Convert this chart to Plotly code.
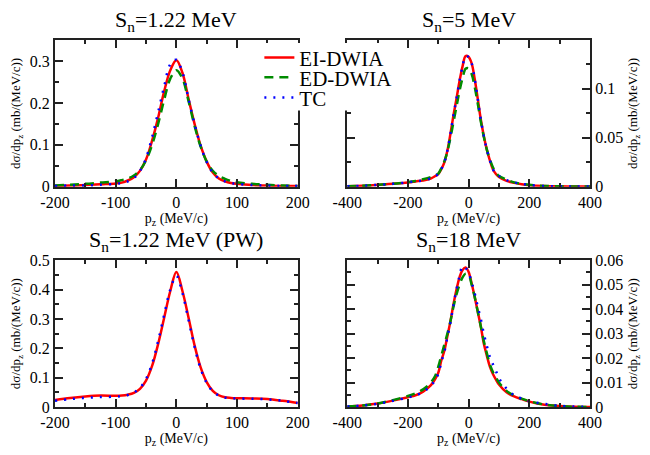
import plotly.graph_objects as go

# Longitudinal momentum grids (MeV/c)
pz_narrow = [-200, -175, -150, -125, -100, -90, -80, -70, -60, -50, -40, -30, -20, -10, 0,
             10, 20, 30, 40, 50, 60, 70, 80, 90, 100, 125, 150, 175, 200]
pz_wide = [-400, -350, -300, -250, -200, -175, -150, -125, -110, -100, -90, -80, -70, -60, -50,
           -40, -30, -20, -10, 0, 10, 20, 30, 40, 50, 60, 70, 80, 90, 100, 125, 150, 175, 200,
           250, 300, 350, 400]

# S_n = 1.22 MeV  (mb/(MeV/c))
sn122_ei = [0.002, 0.003, 0.004, 0.006, 0.008, 0.010, 0.015, 0.023, 0.038, 0.065, 0.110, 0.165,
            0.228, 0.278, 0.302, 0.272, 0.210, 0.150, 0.098, 0.060, 0.034, 0.020, 0.013, 0.009,
            0.007, 0.004, 0.003, 0.002, 0.002]
sn122_ed = [0.003, 0.005, 0.007, 0.010, 0.013, 0.016, 0.020, 0.027, 0.040, 0.063, 0.100, 0.150,
            0.208, 0.258, 0.278, 0.258, 0.205, 0.145, 0.096, 0.060, 0.038, 0.026, 0.019, 0.014,
            0.011, 0.007, 0.005, 0.003, 0.002]
sn122_tc = [0.002, 0.003, 0.003, 0.005, 0.007, 0.009, 0.013, 0.021, 0.038, 0.068, 0.118, 0.178,
            0.240, 0.292, 0.303, 0.273, 0.210, 0.150, 0.098, 0.059, 0.034, 0.020, 0.013, 0.009,
            0.007, 0.004, 0.003, 0.002, 0.002]

# S_n = 5 MeV
sn5_ei = [0.0005, 0.001, 0.002, 0.003, 0.0045, 0.0055, 0.0065, 0.0085, 0.011, 0.013, 0.018, 0.025,
          0.037, 0.054, 0.073, 0.090, 0.108, 0.123, 0.1335, 0.1325, 0.126, 0.110, 0.090, 0.069,
          0.052, 0.038, 0.027, 0.018, 0.013, 0.010, 0.006, 0.004, 0.0025, 0.0016, 0.0008, 0.0005,
          0.0003, 0.0002]
sn5_ed = [0.0005, 0.001, 0.002, 0.003, 0.0048, 0.006, 0.0078, 0.0100, 0.0118, 0.0135, 0.019, 0.026,
          0.036, 0.050, 0.066, 0.082, 0.098, 0.111, 0.1205, 0.121, 0.115, 0.102, 0.085, 0.067,
          0.051, 0.038, 0.028, 0.020, 0.015, 0.011, 0.0075, 0.0045, 0.003, 0.002, 0.0009, 0.0005,
          0.0003, 0.0002]
sn5_tc = [0.0005, 0.001, 0.002, 0.003, 0.0045, 0.0055, 0.0065, 0.0085, 0.011, 0.013, 0.018, 0.025,
          0.037, 0.054, 0.073, 0.090, 0.108, 0.123, 0.1335, 0.1325, 0.126, 0.110, 0.090, 0.069,
          0.052, 0.038, 0.027, 0.018, 0.013, 0.011, 0.0068, 0.0045, 0.003, 0.0018, 0.0008, 0.0005,
          0.0003, 0.0002]

# S_n = 1.22 MeV, plane waves
pw_ei = [0.024, 0.031, 0.036, 0.039, 0.038, 0.039, 0.042, 0.048, 0.062, 0.090, 0.140, 0.215,
         0.305, 0.395, 0.460, 0.395, 0.305, 0.210, 0.135, 0.085, 0.055, 0.040, 0.033, 0.031,
         0.030, 0.029, 0.027, 0.021, 0.014]
pw_tc = [0.021, 0.027, 0.031, 0.034, 0.035, 0.037, 0.041, 0.049, 0.065, 0.095, 0.148, 0.225,
         0.315, 0.400, 0.447, 0.388, 0.297, 0.205, 0.130, 0.082, 0.053, 0.039, 0.032, 0.030,
         0.029, 0.028, 0.026, 0.021, 0.014]

# S_n = 18 MeV
sn18_ei = [0.0002, 0.0006, 0.0014, 0.0026, 0.0040, 0.0048, 0.0063, 0.0088, 0.0115, 0.0140, 0.019,
           0.023, 0.029, 0.035, 0.042, 0.048, 0.053, 0.056, 0.057, 0.0552, 0.0505, 0.045, 0.039,
           0.033, 0.026, 0.021, 0.0165, 0.0135, 0.0112, 0.0092, 0.0060, 0.0043, 0.0032, 0.0022,
           0.0009, 0.0004, 0.0001, 0.0]
sn18_ed = [0.0002, 0.0006, 0.0014, 0.0028, 0.0045, 0.0056, 0.0072, 0.0100, 0.0128, 0.0165, 0.021,
           0.0255, 0.030, 0.035, 0.041, 0.046, 0.050, 0.053, 0.0545, 0.054, 0.050, 0.045, 0.039,
           0.033, 0.027, 0.022, 0.0175, 0.0143, 0.012, 0.010, 0.0066, 0.0047, 0.0034, 0.0024,
           0.0010, 0.0004, 0.0001, 0.0]
sn18_tc = [0.0002, 0.0006, 0.0013, 0.0025, 0.0039, 0.0047, 0.0062, 0.0086, 0.0112, 0.0135, 0.0185,
           0.0225, 0.0285, 0.0345, 0.0415, 0.048, 0.0535, 0.0575, 0.0568, 0.0548, 0.051, 0.0465,
           0.041, 0.036, 0.030, 0.025, 0.0205, 0.0175, 0.0147, 0.0118, 0.0075, 0.0048, 0.0034,
           0.0023, 0.0013, 0.0005, 0.0002, 0.0001]

# Tick values / labels for the momentum axes
ticks_narrow = [-200, -100, 0, 100, 200]
labels_narrow = ["-200", "-100", "0", "100", "200"]
ticks_wide = [-400, -200, 0, 200, 400]
labels_wide = ["-400", "-200", "0", "200", "400"]

titles = ["S<sub>n</sub>=1.22 MeV", "S<sub>n</sub>=5 MeV",
          "S<sub>n</sub>=1.22 MeV (PW)", "S<sub>n</sub>=18 MeV"]

FONT = "Liberation Serif, Times New Roman, serif"
RED, GREEN, BLUE = "#ff0000", "#008b00", "#0000ff"

fig = go.Figure()

styles = {
    "EI-DWIA": dict(color=RED, width=2.5, dash="solid"),
    "ED-DWIA": dict(color=GREEN, width=2.5, dash="9px,6px"),
    "TC": dict(color=BLUE, width=2.5, dash="2px,7px"),
}
legend_ids = {"EI-DWIA": "legend", "ED-DWIA": "legend2", "TC": "legend3"}

panels = [
    ("x", "y", pz_narrow, [("EI-DWIA", sn122_ei), ("ED-DWIA", sn122_ed), ("TC", sn122_tc)], True),
    ("x2", "y2", pz_wide, [("EI-DWIA", sn5_ei), ("ED-DWIA", sn5_ed), ("TC", sn5_tc)], False),
    ("x3", "y3", pz_narrow, [("EI-DWIA", pw_ei), ("TC", pw_tc)], False),
    ("x4", "y4", pz_wide, [("EI-DWIA", sn18_ei), ("ED-DWIA", sn18_ed), ("TC", sn18_tc)], False),
]
for xa, ya, grid, series, show in panels:
    for name, vals in series:
        fig.add_trace(go.Scatter(
            x=grid, y=vals, mode="lines", name=name, line=styles[name],
            line_shape="spline", xaxis=xa, yaxis=ya, showlegend=show,
            legend=legend_ids[name],
        ))

axis_common = dict(
    showline=True, linecolor="#222", linewidth=2, mirror="allticks",
    ticks="inside", ticklen=8, tickwidth=1.5, tickcolor="#222",
    showgrid=False, zeroline=False,
    tickfont=dict(family=FONT, size=16, color="black"),
)
ytitle = dict(text="dσ/dp<sub>z</sub> (mb/(MeV/c))", font=dict(family=FONT, size=13, color="black"),
              standoff=6)
xtitle = dict(text="p<sub>z</sub> (MeV/c)", font=dict(family=FONT, size=14, color="black"),
              standoff=2)


def minor(step):
    return dict(ticks="inside", ticklen=4, tickwidth=1.5, tickcolor="#222", dtick=step, tick0=0)


xl = [0.0, 245 / 540]
xr = [295 / 540, 1.0]
yt = [0.6, 1.0]
yb = [0.0, 0.4]

fig.update_layout(
    width=650, height=455,
    margin=dict(l=55, r=55, t=40, b=35),
    paper_bgcolor="white", plot_bgcolor="white",
    font=dict(family=FONT, color="black"),
    xaxis=dict(axis_common, domain=xl, anchor="y", range=[-200, 200], tickmode="array",
               tickvals=ticks_narrow, ticktext=labels_narrow, title=xtitle, minor=minor(50)),
    yaxis=dict(axis_common, domain=yt, anchor="x", range=[0, 0.35], dtick=0.1, title=ytitle,
               minor=minor(0.05)),
    xaxis2=dict(axis_common, domain=xr, anchor="y2", range=[-400, 400], tickmode="array",
                tickvals=ticks_wide, ticktext=labels_wide, title=xtitle, minor=minor(100)),
    yaxis2=dict(axis_common, domain=yt, anchor="x2", side="right", range=[0, 0.1499], dtick=0.05,
                title=ytitle, minor=minor(0.025)),
    xaxis3=dict(axis_common, domain=xl, anchor="y3", range=[-200, 200], tickmode="array",
                tickvals=ticks_narrow, ticktext=labels_narrow, title=xtitle, minor=minor(50)),
    yaxis3=dict(axis_common, domain=yb, anchor="x3", range=[0, 0.5], dtick=0.1, title=ytitle,
                minor=minor(0.05)),
    xaxis4=dict(axis_common, domain=xr, anchor="y4", range=[-400, 400], tickmode="array",
                tickvals=ticks_wide, ticktext=labels_wide, title=xtitle, minor=minor(100)),
    yaxis4=dict(axis_common, domain=yb, anchor="x4", side="right", range=[0, 0.06], dtick=0.01,
                title=ytitle, minor=minor(0.005)),
)

# White backing for the legend block (hides the frame lines behind it)
fig.add_shape(type="rect", xref="paper", yref="paper",
              x0=(258 - 55) / 540, x1=(393 - 55) / 540,
              y0=(420 - 113) / 380, y1=(420 - 43) / 380,
              fillcolor="white", line=dict(width=0), layer="above")

legend_common = dict(bgcolor="rgba(0,0,0,0)", borderwidth=0, xanchor="left", yanchor="middle",
                     font=dict(family=FONT, size=21, color="black"), x=0.382,
                     itemwidth=30, tracegroupgap=0)
fig.update_layout(
    legend=dict(legend_common, y=(420 - 58.5) / 380),
    legend2=dict(legend_common, y=(420 - 79) / 380),
    legend3=dict(legend_common, y=(420 - 100) / 380),
)

axes_pairs = [("x", "y"), ("x2", "y2"), ("x3", "y3"), ("x4", "y4")]
for (xa, ya), t in zip(axes_pairs, titles):
    fig.add_annotation(
        text=t, xref=f"{xa} domain", yref=f"{ya} domain", x=0.5, y=1.0,
        xanchor="center", yanchor="bottom", yshift=3, showarrow=False,
        font=dict(family=FONT, size=22, color="black"),
    )

fig.write_html("out.html")
